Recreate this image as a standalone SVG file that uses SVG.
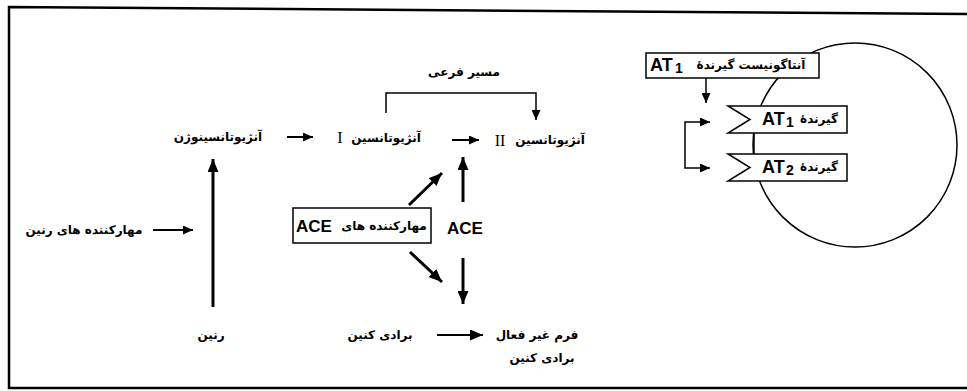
<svg xmlns="http://www.w3.org/2000/svg" width="967" height="391" viewBox="0 0 967 391">
<defs>
<style>
.fa{font-family:"DejaVu Sans","Noto Sans",sans-serif;font-weight:bold;font-size:12px;fill:#000;text-anchor:middle;dominant-baseline:central;direction:rtl}
.lat{font-family:"Liberation Sans",Arial,sans-serif;font-weight:bold;font-size:17px;fill:#000;dominant-baseline:central}
.at{font-family:"Liberation Sans",Arial,sans-serif;font-weight:bold;font-size:18px;fill:#000;dominant-baseline:central}
.sub{font-family:"Liberation Sans",Arial,sans-serif;font-weight:bold;font-size:14px;fill:#000;dominant-baseline:central}
.rom{font-family:"Liberation Serif","Times New Roman",serif;font-size:16px;fill:#000;text-anchor:middle;dominant-baseline:central}
.ln{fill:none;stroke:#000;stroke-width:2}
.thk{fill:none;stroke:#000;stroke-width:3}
.thin{fill:none;stroke:#000;stroke-width:1.5}
.box{fill:#fff;stroke:#000;stroke-width:1.5}
</style>
<marker id="ah" markerUnits="userSpaceOnUse" markerWidth="10" markerHeight="9" refX="10" refY="4.5" orient="auto">
<path d="M0,0 L10,4.5 L0,9 z" fill="#000"/>
</marker>
<marker id="ahb" markerUnits="userSpaceOnUse" markerWidth="13" markerHeight="11" refX="13" refY="5.5" orient="auto">
<path d="M0,0 L13,5.5 L0,11 z" fill="#000"/>
</marker>
</defs>
<rect width="967" height="391" fill="#fff"/>
<g id="frame">
<path d="M967,14 L9,7 L9,388 L967,388" fill="none" stroke="#000" stroke-width="2.5"/>
</g>
<g id="cell">
<circle cx="855" cy="145" r="102" fill="none" stroke="#000" stroke-width="1.5"/>
</g>
<g id="connectors">
<line class="ln" x1="287" y1="137" x2="313" y2="137" marker-end="url(#ah)"/>
<line class="ln" x1="452" y1="140" x2="479" y2="140" marker-end="url(#ah)"/>
<line class="thk" x1="213" y1="307" x2="213" y2="159" marker-end="url(#ahb)"/>
<line class="ln" x1="153" y1="230" x2="193" y2="230" marker-end="url(#ah)"/>
<line class="thk" x1="409" y1="205" x2="442" y2="173" marker-end="url(#ahb)"/>
<line class="thk" x1="463" y1="202" x2="463" y2="157" marker-end="url(#ahb)"/>
<polyline class="thin" points="386,113 386,93 536,93 536,120" marker-end="url(#ah)"/>
<line class="thk" x1="410" y1="252" x2="442" y2="282" marker-end="url(#ahb)"/>
<line class="thk" x1="463" y1="258" x2="463" y2="304" marker-end="url(#ahb)"/>
<line class="ln" x1="437" y1="335" x2="483" y2="335" marker-end="url(#ahb)"/>
<line class="thin" x1="706" y1="78" x2="706" y2="103" marker-end="url(#ah)"/>
<polyline class="thin" points="685,145 685,122 710,122" marker-end="url(#ah)"/>
<polyline class="thin" points="685,145 685,168 710,168" marker-end="url(#ah)"/>
<line class="thin" x1="754" y1="133" x2="754" y2="154"/>
</g>
<g id="angiotensinogen"><text class="fa" x="218" y="137" font-size="13">آنژیوتانسینوژن</text></g>
<g id="angiotensin1"><text class="fa" x="386" y="138">آنژیوتانسین</text><text class="rom" x="340" y="137">I</text></g>
<g id="angiotensin2"><text class="fa" x="550" y="140">آنژیوتانسین</text><text class="rom" x="500" y="140">II</text></g>
<g id="bypass"><text class="fa" x="464" y="72">مسیر فرعی</text></g>
<g id="renin-inhibitors"><text class="fa" x="84" y="230">مهارکننده های رنین</text></g>
<g id="renin"><text class="fa" x="211" y="335">رنین</text></g>
<g id="ace-inhibitors">
<rect class="box" x="293" y="208" width="138" height="35"/>
<text class="lat" x="296" y="226">ACE</text>
<text class="fa" x="384" y="226">مهارکننده های</text>
</g>
<g id="ace"><text class="lat" x="447" y="228">ACE</text></g>
<g id="bradykinin"><text class="fa" x="380" y="335">برادی کنین</text></g>
<g id="inactive"><text class="fa" x="537" y="335">فرم غیر فعال</text><text class="fa" x="542" y="358">برادی کنین</text></g>
<g id="antagonist">
<rect class="box" x="646" y="53" width="173" height="25"/>
<text class="at" x="650" y="65">AT</text><text class="sub" x="675" y="68">1</text>
<text class="fa" x="751" y="65">آنتاگونیست گیرندهٔ</text>
</g>
<g id="at1">
<path class="box" d="M728,106 L847,106 L847,133 L728,133 L750,119.5 z"/>
<text class="at" x="762" y="119">AT</text><text class="sub" x="786" y="122">1</text>
<text class="fa" x="819" y="119">گیرندهٔ</text>
</g>
<g id="at2">
<path class="box" d="M728,154 L847,154 L847,181 L728,181 L750,167.5 z"/>
<text class="at" x="762" y="167">AT</text><text class="sub" x="786" y="170">2</text>
<text class="fa" x="819" y="167">گیرندهٔ</text>
</g>
</svg>
